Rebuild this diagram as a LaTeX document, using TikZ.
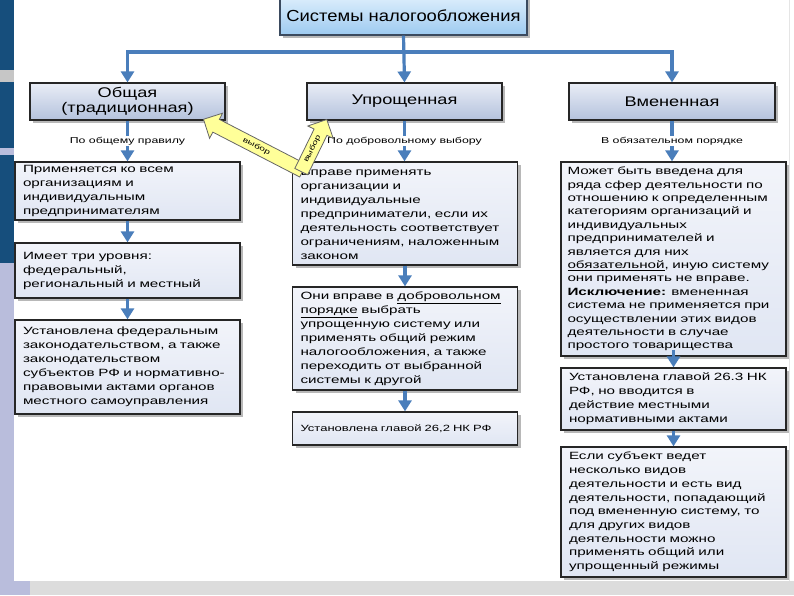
\documentclass[tikz,border=0pt]{standalone}
\usepackage{fontspec}
\setmainfont{Liberation Sans}
\newfontfamily\titlef{Liberation Sans}[FakeStretch=1.15]
\newfontfamily\headf{Liberation Sans}[FakeStretch=1.3]
\newfontfamily\bodyf{Liberation Sans}[FakeStretch=1.45]
\usetikzlibrary{arrows.meta,shadows,shapes.arrows}
\definecolor{cblue}{HTML}{4A7EBB}
\definecolor{titletop}{HTML}{DCEEFC}
\definecolor{titlebot}{HTML}{9DCAF0}
\definecolor{titleedge}{HTML}{3B4A5E}
\definecolor{headtop}{HTML}{E9EDF6}
\definecolor{headbot}{HTML}{B4C2DD}
\definecolor{bodytop}{HTML}{F2F4FA}
\definecolor{bodybot}{HTML}{E0E6F3}
\definecolor{selyel}{HTML}{FFFF99}
\definecolor{lav}{HTML}{B9BDDC}
\definecolor{navy}{HTML}{164E7C}
\definecolor{band}{HTML}{DCDCDC}
\tikzset{
  conn/.style={draw=cblue, line width=3.2pt},
  tipped/.style={-{Triangle[width=13pt,length=11pt]}},
  bothtipped/.style={{Triangle[width=13pt,length=11pt]}-{Triangle[width=13pt,length=11pt]}},
  shadowed/.style={drop shadow={shadow xshift=3pt, shadow yshift=-3pt, opacity=0.28, fill=black}},
  titlebox/.style={draw=titleedge, line width=1.2pt, top color=titletop, bottom color=titlebot,
    minimum width=247pt, minimum height=38pt, inner sep=2pt,
    font=\titlef\fontsize{16}{18}\selectfont, shadowed},
  headbox/.style={draw=black!85, line width=1.2pt, top color=headtop, bottom color=headbot,
    minimum width=195pt, minimum height=37pt, inner sep=2pt, align=center,
    font=\headf\fontsize{14}{15.5}\selectfont, shadowed},
  bodybox/.style={draw=black!85, line width=1.3pt, top color=bodytop, bottom color=bodybot,
    inner xsep=8pt, inner ysep=2pt, text width=209pt, align=left,
    font=\bodyf\fontsize{10.5}{14}\selectfont, shadowed},
  lbl/.style={fill=white, inner sep=1.2pt, text=black, font=\bodyf\fontsize{8.5}{10}\selectfont},
  choice/.style={single arrow, draw=black!60, line width=0.8pt, fill=selyel,
    font=\bodyf\fontsize{7}{8}\selectfont, inner xsep=2pt, inner ysep=3.5pt,
    text height=5pt, text depth=1.5pt, single arrow head extend=7pt}
}
\begin{document}
\begin{tikzpicture}[x=1pt,y=-1pt]
\useasboundingbox (0,0) rectangle (794,595);
\fill[white] (0,0) rectangle (794,595);
% slide decoration
\fill[lav] (0,0) rectangle (14,595);
\fill[lav] (0,581) rectangle (30,595);
\fill[band] (30,581) rectangle (794,595);
\fill[gray!45] (0,70) rectangle (14,82);
\fill[navy] (0,0) rectangle (14,70);
\fill[navy] (0,82) rectangle (14,148);
\fill[navy] (0,155) rectangle (14,263);
\draw[gray!20] (789,0) -- (789,581);

% title and heads
\node[titlebox] (title) at (403.5,16) {Системы налогообложения};
\coordinate (bus) at (0,52);
\node[headbox] (gen) at (127.5,101.5) {Общая\\(традиционная)};
\node[headbox] (simp) at (404.5,101.5) {Упрощенная};
\node[headbox, minimum width=206pt] (imp) at (672,101.5) {Вмененная};

\draw[conn,tipped] (title.south) -- (simp.north);
\draw[conn,bothtipped] (gen.north) -- (gen.north |- bus) -- (imp.north |- bus) -- (imp.north);

% left column
\node[bodybox, minimum height=58pt] (L1) at (127.5,191) {Применяется ко всем\\организациям и\\индивидуальным\\предпринимателям};
\node[bodybox, minimum height=55pt] (L2) at (127.5,270.5) {Имеет три уровня:\\федеральный,\\региональный и местный};
\node[bodybox, minimum height=94pt] (L3) at (127.5,367) {Установлена федеральным\\законодательством, а также\\законодательством\\субъектов РФ и нормативно-\\правовыми актами органов\\местного самоуправления};

% middle column
\node[bodybox, minimum height=103pt] (M1) at (405,213.5) {Вправе применять\\организации и\\индивидуальные\\предприниматели, если их\\деятельность соответствует\\ограничениям, наложенным\\законом};
\node[bodybox, minimum height=103pt] (M2) at (405,338.5) {Они вправе в \underline{добровольном}\\\underline{порядке} выбрать\\упрощенную систему или\\применять общий режим\\налогообложения, а также\\переходить от выбранной\\системы к другой};
\node[bodybox, minimum height=33pt, font=\bodyf\fontsize{9}{11}\selectfont] (M3) at (405,428.5) {Установлена главой 26,2 НК РФ};

% right column
\node[bodybox, minimum height=194pt, inner xsep=6.5pt, text width=212pt, font=\bodyf\fontsize{10.5}{13.4}\selectfont] (R1) at (673.5,259) {Может быть введена для\\ряда сфер деятельности по\\отношению к определенным\\категориям организаций и\\индивидуальных\\предпринимателей и\\является для них\\\underline{обязательной}, иную систему\\они применять не вправе.\\\textbf{Исключение:} вмененная\\система не применяется при\\осуществлении этих видов\\деятельности в случае\\простого товарищества};
\node[bodybox, minimum height=62pt] (R2) at (673.5,399) {Установлена главой 26.3 НК\\РФ, но вводится в\\действие местными\\нормативными актами};
\node[bodybox, minimum height=130pt, font=\bodyf\fontsize{10.5}{13.7}\selectfont] (R3) at (673.5,512) {Если субъект ведет\\несколько видов\\деятельности и есть вид\\деятельности, попадающий\\под вмененную систему, то\\для других видов\\деятельности можно\\применять общий или\\упрощенный режимы};

% connectors
\draw[conn,tipped] (gen.south) -- node[lbl] (lab1) {По общему правилу} (gen.south |- L1.north);
\draw[conn,tipped] (simp.south) -- node[lbl] (lab2) {По добровольному выбору} (simp.south |- M1.north);
\draw[conn,tipped] (imp.south) -- node[lbl] (lab3) {В обязательном порядке} (imp.south |- R1.north);
\draw[conn,tipped] (L1) -- (L2);
\draw[conn,tipped] (L2) -- (L3);
\draw[conn,tipped] (M1) -- (M2);
\draw[conn,tipped] (M2) -- (M3);
\draw[conn,tipped] ([yshift=7pt]R1.south) -- (R2.north);
\draw[conn,tipped] (R2) -- (R3);

% choice arrows
\coordinate (tip1) at (203,119);
\coordinate (tip2) at (327,119);
\node[choice, anchor=tip, minimum height=112pt, rotate=-27.3, shape border rotate=180] (sel1) at (tip1) {выбор};
\node[choice, anchor=tip, minimum height=58pt, rotate=63.9] (sel2) at (tip2) {выбор};
\end{tikzpicture}
\end{document}
